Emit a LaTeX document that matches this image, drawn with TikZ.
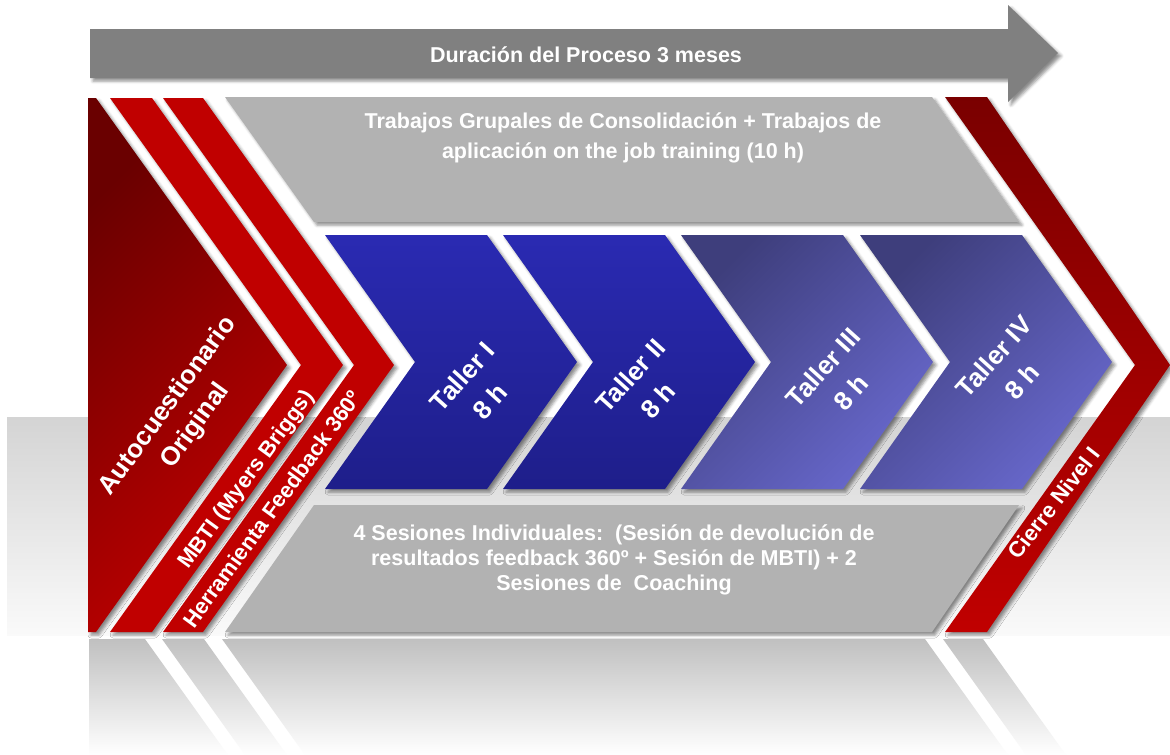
\documentclass[tikz,border=0pt]{standalone}
\usepackage{fontspec}
\setmainfont{Liberation Sans}
\usetikzlibrary{shadows.blur}
\definecolor{arrowgray}{HTML}{808080}
\definecolor{boxgray}{HTML}{B2B2B2}
\definecolor{redA}{HTML}{C00000}
\definecolor{redDark}{HTML}{6A0000}
\definecolor{redTop}{HTML}{7A0000}
\definecolor{blueA}{HTML}{2A2AB2}
\definecolor{blueB}{HTML}{1E1E8A}
\definecolor{slateA}{HTML}{3E3E7C}
\definecolor{slateB}{HTML}{6868CC}
\definecolor{floorA}{HTML}{D4D4D4}
\definecolor{floorB}{HTML}{FBFBFB}
\definecolor{reflA}{HTML}{C0C0C0}
\begin{document}
\begin{tikzpicture}[x=1pt,y=-1pt,
  shd/.style={blur shadow={shadow xshift=3pt, shadow yshift=-3pt, shadow blur radius=3pt, shadow opacity=45}},
  lbl/.style={text=white, font=\bfseries\fontsize{21.5}{30}\selectfont, align=center, inner sep=0pt},
  rlbl/.style={text=white, font=\bfseries\fontsize{22}{28}\selectfont, align=center, inner sep=0pt, rotate=54},
  tlbl/.style={text=white, font=\bfseries\fontsize{26}{37}\selectfont, align=center, inner sep=0pt, rotate=48},
  refl/.style={top color=reflA, bottom color=white},
  darkblue/.style={shd, top color=blueA, bottom color=blueB},
  slateblue/.style={shd, top color=slateA, bottom color=slateB, shading angle=45}]
\useasboundingbox (0,0) rectangle (1170,755);
% floor band
\fill[top color=floorA, bottom color=floorB] (7,417) rectangle (1170,642);
% reflections
\fill[white] (0,636) rectangle (1170,755);
\path[refl] (89,639) -- (145,639) -- (228,755) -- (89,755) -- cycle;
\path[refl] (162,639) -- (204,639) -- (287,755) -- (245,755) -- cycle;
\path[refl] (222,639) -- (925,639) -- (1008,755) -- (305,755) -- cycle;
\path[refl] (943,639) -- (983,639) -- (1066,755) -- (1026,755) -- cycle;
% top arrow
\path[shd, fill=arrowgray] (90,29) -- (1008,29) -- (1008,5) -- (1058,53) -- (1008,102) -- (1008,78) -- (90,78) -- cycle;
\node[lbl] (dur) at (586,55) {Duración del Proceso 3 meses};
% gray boxes
\path[shd, fill=boxgray] (225,97) -- (932,97) -- (1019,222) -- (314,222) -- cycle;
\path[shd, fill=boxgray] (314,505) -- (1019,505) -- (932,632) -- (225,632) -- cycle;
\node[lbl] (trab) at (623,138) {Trabajos Grupales de Consolidación + Trabajos de\\aplicación on the job training (10 h)};
\node[lbl, font=\bfseries\fontsize{21.5}{25}\selectfont] (ses) at (614,560) {4 Sesiones Individuales:\ \ (Sesión de devolución de\\resultados feedback 360º + Sesión de MBTI) + 2\\Sesiones de\ \ Coaching};
% red chevrons left
\path[shd, top color=redDark, bottom color=redA, shading angle=45] (88,98) -- (96,98) -- (287,365) -- (96,632) -- (88,632) -- cycle;
\path[shd, fill=redA] (110,98) -- (152,98) -- (343,365) -- (152,632) -- (110,632) -- (301,365) -- cycle;
\path[shd, fill=redA] (163,98) -- (203,98) -- (394,365) -- (203,632) -- (163,632) -- (354,365) -- cycle;
\node[rlbl, font=\bfseries\fontsize{26}{34}\selectfont] (auto) at (182,416) {Autocuestionario\\Original};
\node[rlbl] (mbti) at (247,480) {MBTI (Myers Briggs)};
\node[rlbl] (herr) at (272,509) {Herramienta Feedback 360º};
% right red chevron
\path[shd, top color=redTop, bottom color=redA] (945,97) -- (987,97) -- (1170,365) -- (987,632) -- (945,632) -- (1135,365) -- cycle;
\node[rlbl, rotate=-2] (cierre) at (1054,503) {Cierre Nivel I};
% blue chevrons
\path[darkblue] (325,235) -- (487,235) -- (577,362) -- (487,489) -- (325,489) -- (415,362) -- cycle;
\path[darkblue] (503,235) -- (665,235) -- (755,362) -- (665,489) -- (503,489) -- (593,362) -- cycle;
\path[slateblue] (681,235) -- (843,235) -- (933,362) -- (843,489) -- (681,489) -- (771,362) -- cycle;
\path[slateblue] (860,235) -- (1022,235) -- (1112,362) -- (1022,489) -- (860,489) -- (950,362) -- cycle;
\node[tlbl] (t1) at (476,389) {Taller I\\8 h};
\node[tlbl] (t2) at (644,388) {Taller II\\8 h};
\node[tlbl] (t3) at (837,380) {Taller III\\8 h};
\node[tlbl] (t4) at (1008,369) {Taller IV\\8 h};
\end{tikzpicture}
\end{document}
